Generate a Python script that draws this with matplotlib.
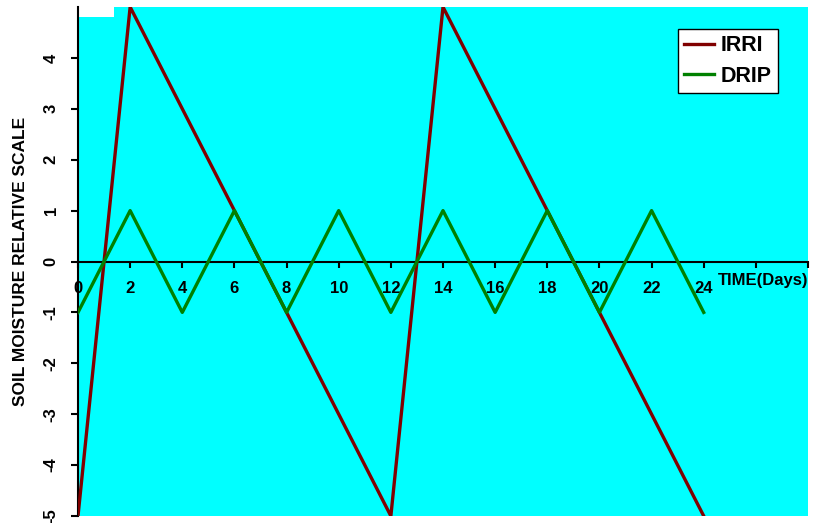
import numpy as np
import matplotlib.pyplot as plt
from matplotlib.patches import Rectangle

plt.rcParams["font.family"] = ["Liberation Sans", "DejaVu Sans"]

# data
days = [0, 2, 4, 6, 8, 10, 12, 14, 16, 18, 20, 22, 24]
irri_days = [0, 2, 12, 14, 24]
irri = [-5, 5, -5, 5, -5]
drip = [-1, 1, -1, 1, -1, 1, -1, 1, -1, 1, -1, 1, -1]
x_ticks = list(range(0, 29, 2))
x_labels = [str(d) if d <= 24 else "" for d in x_ticks]
y_ticks = [-5, -4, -3, -2, -1, 0, 1, 2, 3, 4]

fig = plt.figure(figsize=(8.16, 5.23), dpi=100)
ax = fig.add_axes([78 / 816, 7 / 523, 730 / 816, 509 / 523])
ax.set_facecolor("#00ffff")

ax.plot(irri_days, irri, color="#800000", lw=2.4, label="IRRI", zorder=3)
ax.plot(days, drip, color="#008000", lw=2.4, label="DRIP", zorder=3)

ax.set_xlim(0, 28)
ax.set_ylim(-5, 5)

# x axis sits on y = 0
ax.spines["bottom"].set_position(("data", 0))
ax.spines["top"].set_visible(False)
ax.spines["right"].set_visible(False)
ax.spines["left"].set_linewidth(1.5)
ax.spines["bottom"].set_linewidth(1.5)

ax.set_xticks(x_ticks)
ax.set_xticklabels(x_labels, fontweight="bold", fontsize=12)
ax.tick_params(axis="x", direction="out", length=4, width=1.5, pad=10)
ax.set_yticks(y_ticks)
ax.set_yticklabels([str(v) for v in y_ticks], fontweight="bold", fontsize=12,
                   rotation=90, va="center")
ax.tick_params(axis="y", direction="out", length=5, width=1.5, pad=9)

ax.set_ylabel("SOIL MOISTURE RELATIVE SCALE", fontweight="bold", fontsize=12.5)
ax.yaxis.set_label_coords(-0.069, 0.5)

ax.text(28, -0.37, "TIME(Days)", ha="right", va="center", fontweight="bold",
        fontsize=12, clip_on=False)

# white notch at the top left corner of the plot area
ax.add_patch(Rectangle((0, 0.98), 36 / 730, 0.03, transform=ax.transAxes,
                       facecolor="white", edgecolor="none", zorder=2,
                       clip_on=False))

leg = ax.legend(loc="upper right", bbox_to_anchor=(0.959, 0.957),
                prop={"weight": "bold", "size": 15.5}, fancybox=False,
                framealpha=1, edgecolor="black", handlelength=1.35,
                handletextpad=0.33, borderpad=0.3, labelspacing=0.43,
                borderaxespad=0)
leg.get_frame().set_linewidth(1)

fig.savefig("out.png", dpi=100)
